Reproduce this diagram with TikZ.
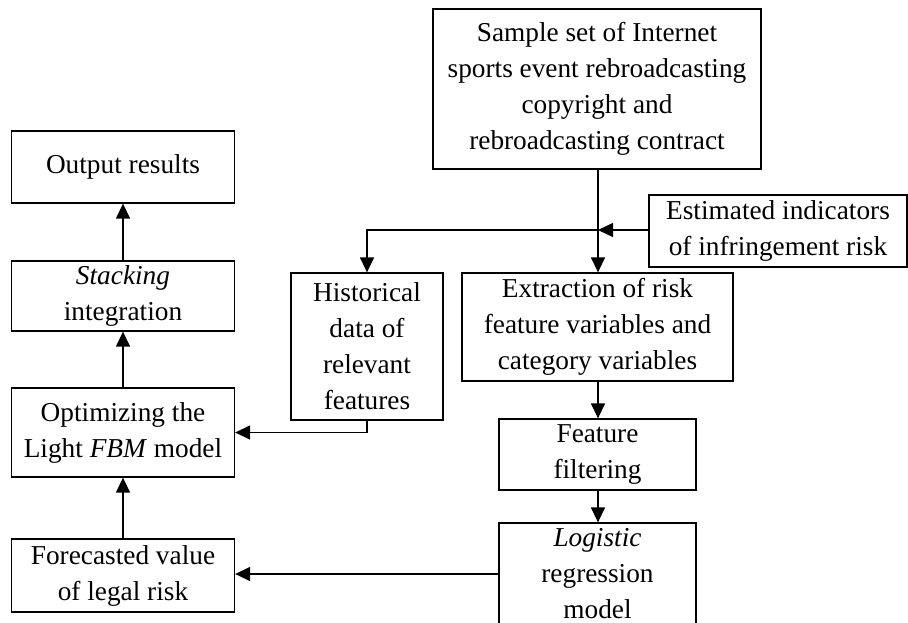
\documentclass[tikz,border=0pt]{standalone}
\usepackage{fontspec}
\setmainfont{Liberation Serif}
\usetikzlibrary{arrows.meta}
\tikzset{
  box/.style={draw, line width=1.3pt, inner sep=0pt, align=center,
    font=\fontsize{27.3}{36}\selectfont},
  arr/.style={line width=1.4pt, -{Triangle[length=15pt,width=14pt]}}
}
\begin{document}
\begin{tikzpicture}[x=1pt,y=-1pt]
\clip (0,0) rectangle (908,622);
\fill[white] (0,0) rectangle (908,622);
% left column
\node[box, minimum width=223pt, minimum height=72pt] (out) at (123,167) {Output results};
\node[box, minimum width=223pt, minimum height=70pt] (stack) at (123,296) {\textit{Stacking}\\integration};
\node[box, minimum width=223pt, minimum height=89pt] (opt) at (123,432.5) {Optimizing the\\Light \textit{FBM} model};
\node[box, minimum width=223pt, minimum height=73pt] (fore) at (123,575.5) {Forecasted value\\of legal risk};
% right part
\node[box, minimum width=328pt, minimum height=160pt] (sample) at (597,89) {Sample set of Internet\\sports event rebroadcasting\\copyright and\\rebroadcasting contract};
\node[box, minimum width=258pt, minimum height=72pt] (est) at (778,231) {Estimated indicators\\of infringement risk};
\node[box, minimum width=152pt, minimum height=147pt] (hist) at (367,346.5) {Historical\\data of\\relevant\\features};
\node[box, minimum width=271pt, minimum height=108pt] (ext) at (597.5,327) {Extraction of risk\\feature variables and\\category variables};
\node[box, minimum width=197pt, minimum height=71pt] (filt) at (597.5,454.5) {Feature\\filtering};
\node[box, minimum width=197pt, minimum height=102pt] (log) at (597.5,574) {\textit{Logistic}\\regression\\model};
% junction
\coordinate (jn) at (598,230);
% connectors
\draw[arr] (sample.south -| jn) -- (ext.north -| jn);
\draw[arr] (est.west |- jn) -- (jn);
\draw[arr] (jn) -| (hist.north);
\draw[arr] (hist.south) |- (opt.east);
\draw[arr] (ext.south -| jn) -- (filt.north -| jn);
\draw[arr] (filt.south -| jn) -- (log.north -| jn);
\draw[arr] (log.west) -- (log.west -| fore.east);
\draw[arr] (fore.north) -- (opt.south);
\draw[arr] (opt.north) -- (stack.south);
\draw[arr] (stack.north) -- (out.south);
\end{tikzpicture}
\end{document}
